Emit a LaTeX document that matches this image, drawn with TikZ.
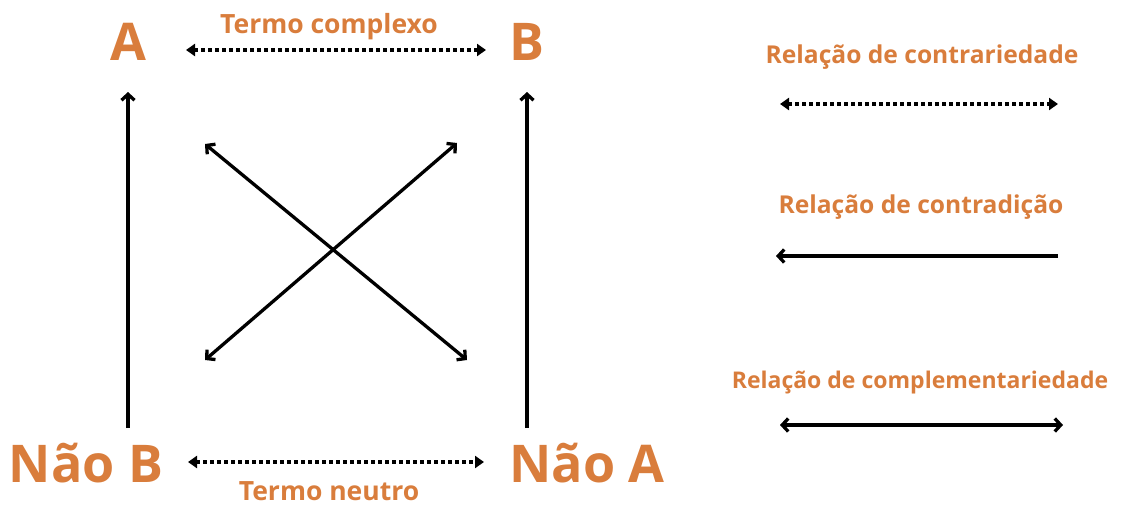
\documentclass[tikz,border=0pt]{standalone}
\usepackage{fontspec}
\setmainfont{Open Sans}
\usetikzlibrary{arrows.meta,positioning}
\definecolor{termorange}{RGB}{217,125,60}
\tikzset{
  big term/.style={
    text=termorange,
    font=\bfseries\fontsize{52}{52}\selectfont,
    inner sep=0pt,
    anchor=base
  },
  term label/.style={
    text=termorange,
    font=\bfseries\fontsize{26.5}{26.5}\selectfont,
    inner sep=0pt,
    anchor=base
  },
  rel label/.style={
    text=termorange,
    font=\bfseries\fontsize{24.6}{24.6}\selectfont,
    inner sep=0pt,
    anchor=base
  },
  dotted rel/.style={
    {Triangle[length=9pt,width=12pt]}-{Triangle[length=9pt,width=12pt]},
    line width=3.5pt,
    dash pattern=on 3.5pt off 3.5pt
  },
  solid rel/.style={
    line width=3.3pt,
    arrows={-Straight Barb[length=6pt,width=13pt,line width=3.3pt]}
  },
  both rel/.style={
    line width=3.3pt,
    arrows={Straight Barb[length=6pt,width=13pt,line width=3.3pt]-Straight Barb[length=6pt,width=13pt,line width=3.3pt]}
  }
}

\begin{document}
\begin{tikzpicture}[x=1pt, y=-1pt]
 \useasboundingbox (0,0) rectangle (1143,506);
 % the four terms
 \node[big term] (a) at (128,60) {A};
 \node[big term] (b) at (527,60) {B};
 \node[big term] (nb) at (86,482) {Não B};
 \node[big term] (na) at (587,482) {Não A};
 \node[term label] (complexo) at (329,33) {Termo complexo};
 \node[term label] (neutro) at (329,500) {Termo neutro};
 % arrow ends
 \coordinate (ab l) at (186,50);
 \coordinate (ab r) at (486,50);
 \coordinate (nn l) at (188,462);
 \coordinate (nn r) at (484,462);
 \coordinate (a in) at (128,92);
 \coordinate (nb out) at (128,428);
 \coordinate (b in) at (527,92);
 \coordinate (na out) at (527,428);
 \coordinate (x1) at (205,144);
 \coordinate (x2) at (467,360);
 \coordinate (x3) at (457,143);
 \coordinate (x4) at (205,360);
 \draw[dotted rel] (ab l) -- (ab r);
 \draw[dotted rel] (nn l) -- (nn r);
 \draw[solid rel] (nb out) -- (a in);
 \draw[solid rel] (na out) -- (b in);
 \draw[both rel] (x1) -- (x2);
 \draw[both rel] (x3) -- (x4);
 % legend
 \node[rel label] (contrariedade) at (922,63) {Relação de contrariedade};
 \node[rel label] (contradicao) at (921,213) {Relação de contradição};
 \node[rel label, font=\bfseries\fontsize{23}{23}\selectfont] (complementar) at (920,388) {Relação de complementariedade};
 \coordinate (l1a) at (780,104);
 \coordinate (l1b) at (1058,104);
 \coordinate (l2a) at (1058,256);
 \coordinate (l2b) at (776,256);
 \coordinate (l3a) at (780,425);
 \coordinate (l3b) at (1063,425);
 \draw[dotted rel] (l1a) -- (l1b);
 \draw[solid rel] (l2a) -- (l2b);
 \draw[both rel] (l3a) -- (l3b);
\end{tikzpicture}
\end{document}
